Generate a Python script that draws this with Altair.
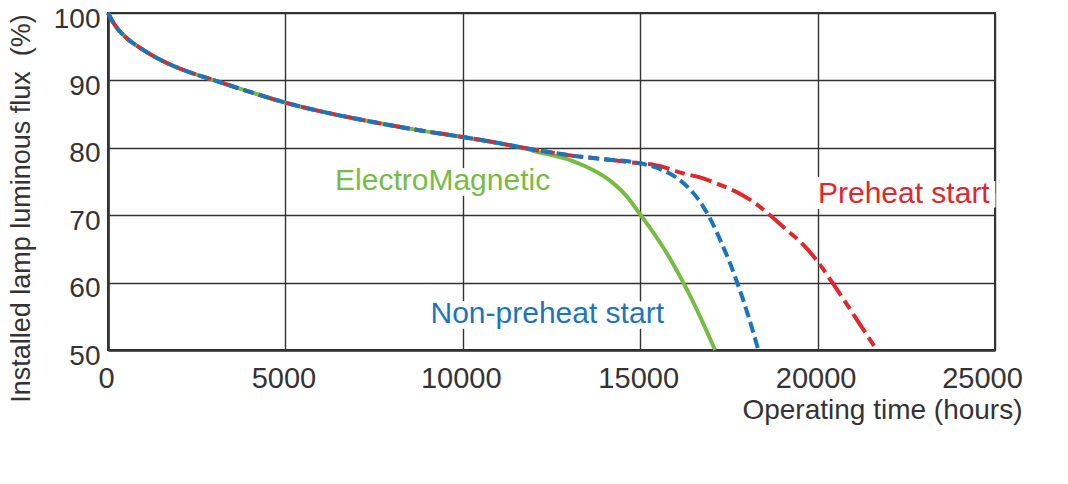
import altair as alt
import pandas as pd

# Shared early part of the curve (hours, % flux)
common_x = [0, 100, 250, 500, 1000, 1500, 2000, 3000, 4000, 5000, 6000, 7000, 8000,
            9000, 10000, 11000, 11700]
common_y = [100, 99.0, 97.8, 96.4, 94.5, 93.0, 91.8, 90.0, 88.3, 86.7, 85.4, 84.3, 83.3,
            82.4, 81.6, 80.7, 80.0]

# ElectroMagnetic branch
em_x = [12175, 12600, 13115, 13600, 14055, 14620, 15015, 15370, 15650, 16215, 16685, 17110]
em_y = [79.3, 78.8, 78.0, 76.9, 75.5, 72.8, 70.0, 67.4, 65.2, 60.0, 55.0, 50.0]

# Shared part for the electronic ballasts
elec_x = [12500, 13115, 14000, 15000]
elec_y = [79.3, 78.8, 78.3, 77.7]

# Non-preheat start branch
np_x = [15370, 15750, 16120, 16685, 16970, 17340, 17530, 17720, 18050, 18330]
np_y = [77.2, 76.4, 75.2, 72.0, 69.5, 65.3, 62.9, 60.2, 55.0, 50.0]

# Preheat start branch
ph_x = [15370, 16215, 16685, 17250, 17810, 18285, 18660, 19130, 19600, 19975, 20440, 21010, 21665]
ph_y = [77.5, 76.2, 75.6, 74.5, 73.2, 71.6, 70.0, 67.8, 65.6, 63.3, 59.8, 55.3, 50.0]

x_ticks = [0, 5000, 10000, 15000, 20000, 25000]
y_ticks = [50, 60, 70, 80, 90, 100]

labels = ["ElectroMagnetic", "Non-preheat start", "Preheat start"]
label_x = [6400, 9090, 20010]
label_y = [73.7, 54.0, 71.8]
label_colors = ["#76bc43", "#1b75bc", "#e3262b"]

GREEN, BLUE, RED = "#76bc43", "#1b75bc", "#e3262b"
FONT = "Liberation Sans"
TXT = "#333333"

df_em = pd.DataFrame({"x": common_x + em_x, "y": common_y + em_y})
df_np = pd.DataFrame({"x": common_x + elec_x + np_x, "y": common_y + elec_y + np_y})
df_ph = pd.DataFrame({"x": common_x + elec_x + ph_x, "y": common_y + elec_y + ph_y})
df_lab = pd.DataFrame({"t": labels, "x": label_x, "y": label_y, "c": label_colors})

xs = alt.Scale(domain=[0, 25000], nice=False)
ys = alt.Scale(domain=[50, 100], nice=False)

xax = alt.Axis(values=x_ticks, format="d", ticks=False, labelPadding=14, labelFontSize=29,
               labelFont=FONT, labelColor=TXT, grid=True, gridColor="#333333", gridWidth=1.4,
               domainColor="#333333", domainWidth=2.6,
               labelOffset={"condition": {"test": "datum.value == 25000", "value": -13}, "value": -2},
               title="Operating time (hours)", titleFont=FONT, titleFontSize=28,
               titleFontWeight="normal", titleColor=TXT, titleAlign="right",
               titleX=914, titleY=68, titleBaseline="alphabetic", labelFlush=False)
yax = alt.Axis(values=y_ticks, ticks=False, labelPadding=8, labelFontSize=28,
               labelFont=FONT, labelColor=TXT, grid=True, gridColor="#333333", gridWidth=1.4,
               domainColor="#333333", domainWidth=2.6, labelOffset=6,
               title="Installed lamp luminous flux\u00a0 (%)", titleFont=FONT, titleFontSize=27,
               titleFontWeight="normal", titleColor=TXT, titleAngle=-90, titleAlign="center",
               titleX=-79, titleY=195, titleBaseline="alphabetic")

em = alt.Chart(df_em).mark_line(color=GREEN, strokeWidth=4, interpolate="monotone").encode(
    x=alt.X("x:Q", scale=xs, axis=xax), y=alt.Y("y:Q", scale=ys, axis=yax))
ph = alt.Chart(df_ph).mark_line(color=RED, strokeWidth=4, strokeDash=[22, 6, 10, 6],
                                interpolate="monotone").encode(
    x=alt.X("x:Q", scale=xs), y=alt.Y("y:Q", scale=ys))
npl = alt.Chart(df_np).mark_line(color=BLUE, strokeWidth=4, strokeDash=[11, 5],
                                 interpolate="monotone").encode(
    x=alt.X("x:Q", scale=xs), y=alt.Y("y:Q", scale=ys))

halo = alt.Chart(df_lab).mark_text(align="left", baseline="alphabetic", font=FONT, fontSize=30,
                                   fill="white", stroke="white", strokeWidth=12).encode(
    x=alt.X("x:Q", scale=xs), y=alt.Y("y:Q", scale=ys), text="t:N")
txt = alt.Chart(df_lab).mark_text(align="left", baseline="alphabetic", font=FONT, fontSize=30).encode(
    x=alt.X("x:Q", scale=xs), y=alt.Y("y:Q", scale=ys), text="t:N",
    color=alt.Color("c:N", scale=None))

chart = alt.layer(em, ph, npl, halo, txt).properties(
    width=887, height=337,
    autosize=alt.AutoSizeParams(type="none"),
    padding={"left": 100, "top": 5, "right": 65, "bottom": 126},
    background="white",
).configure_view(stroke="#333333", strokeWidth=2)

chart.save("out.html", embed_options={"renderer": "svg", "actions": False})
